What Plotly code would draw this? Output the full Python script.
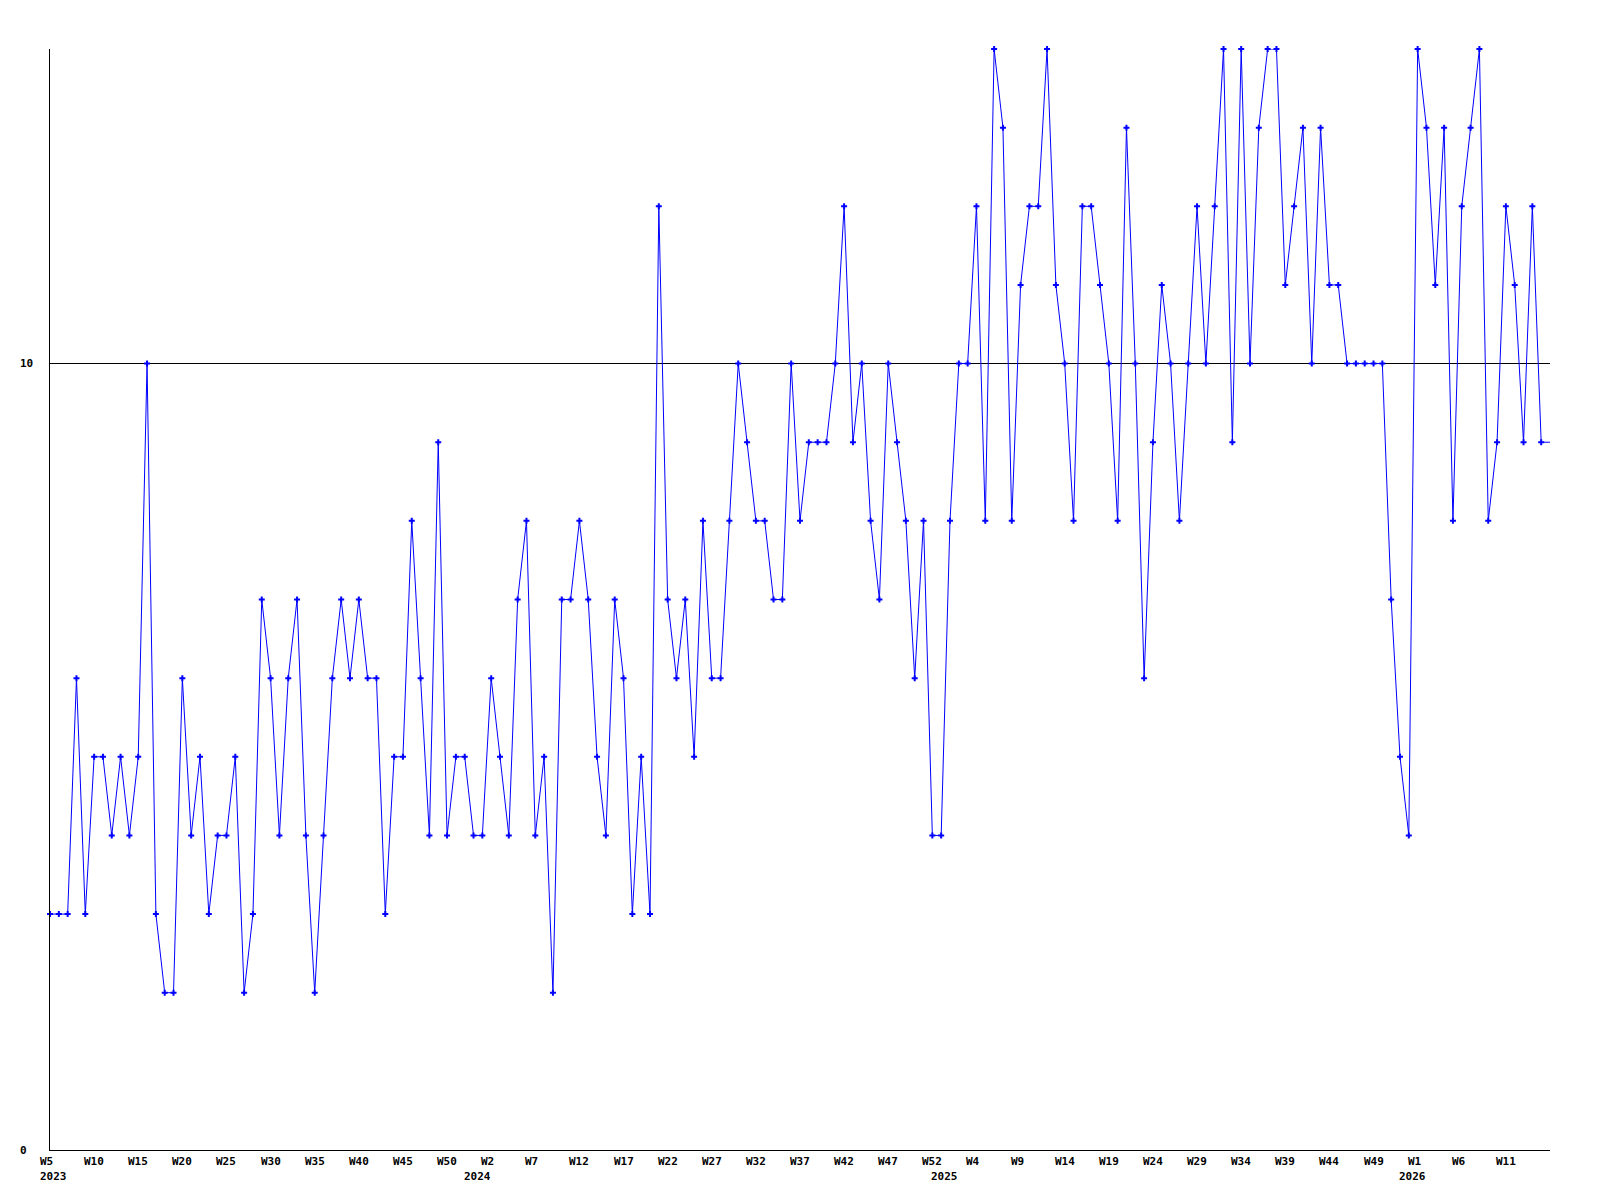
import plotly.graph_objects as go

# Weekly values (2023 W5 ... 2026 W16)
values_2023 = [3, 3, 3, 6, 3, 5, 5, 4, 5, 4, 5, 10, 3, 2, 2, 6, 4, 5, 3, 4,
               4, 5, 2, 3, 7, 6, 4, 6, 7, 4, 2, 4, 6, 7, 6, 7, 6, 6, 3, 5,
               5, 8, 6, 4, 9, 4, 5, 5]
values_2024 = [4, 4, 6, 5, 4, 7, 8, 4, 5, 2, 7, 7, 8, 7, 5, 4, 7, 6, 3, 5,
               3, 12, 7, 6, 7, 5, 8, 6, 6, 8, 10, 9, 8, 8, 7, 7, 10, 8, 9, 9,
               9, 10, 12, 9, 10, 8, 7, 10, 9, 8, 6, 8, 4]
values_2025 = [4, 8, 10, 10, 12, 8, 14, 13, 8, 11, 12, 12, 14, 11, 10, 8, 12, 12, 11, 10,
               8, 13, 10, 6, 9, 11, 10, 8, 10, 12, 10, 12, 14, 9, 14, 10, 13, 14, 14, 11,
               12, 13, 10, 13, 11, 11, 10, 10, 10, 10, 10, 7, 5]
values_2026 = [4, 14, 13, 11, 13, 8, 12, 13, 14, 8, 9, 12, 11, 9, 12, 9, 9]

values = values_2023 + values_2024 + values_2025 + values_2026

# x-axis labels (every 5th week) and the year labels under them
week_tick_index = list(range(0, 170, 5))
week_tick_labels = ["W5", "W10", "W15", "W20", "W25", "W30", "W35", "W40", "W45", "W50",
                    "W2", "W7", "W12", "W17", "W22", "W27", "W32", "W37", "W42", "W47", "W52",
                    "W4", "W9", "W14", "W19", "W24", "W29", "W34", "W39", "W44", "W49",
                    "W1", "W6", "W11"]
year_index = [0, 48, 101, 154]
year_labels = ["2023", "2024", "2025", "2026"]

y_tick_values = [0, 10]
y_tick_labels = ["0", "10"]

x = list(range(len(values)))

label_font = dict(family="DejaVu Sans Mono", size=11, color="black", weight="bold")

fig = go.Figure()
fig.add_trace(go.Scatter(
    x=x, y=values, mode="lines",
    line=dict(color="#0000ff", width=1),
    cliponaxis=False, hoverinfo="skip", showlegend=False))
fig.add_trace(go.Scatter(
    x=x[:-1], y=values[:-1], mode="markers",
    marker=dict(symbol="cross", size=5, color="#0000ff", line=dict(width=0)),
    cliponaxis=False, showlegend=False))

annotations = []
for k, t in zip(week_tick_index, week_tick_labels):
    annotations.append(dict(x=k, y=0, xref="x", yref="paper", text=t, showarrow=False,
                            xanchor="left", yanchor="middle", xshift=-11, yshift=-11.5,
                            borderpad=0, font=label_font))
for k, t in zip(year_index, year_labels):
    annotations.append(dict(x=k, y=0, xref="x", yref="paper", text=t, showarrow=False,
                            xanchor="left", yanchor="middle", xshift=-11, yshift=-26.5,
                            borderpad=0, font=label_font))
for v, t in zip(y_tick_values, y_tick_labels):
    annotations.append(dict(x=0, y=v, xref="paper", yref="y", text=t, showarrow=False,
                            xanchor="left", yanchor="middle", xshift=-31,
                            borderpad=0, font=label_font))

# the page body adds an 8px margin, so the figure is 16px smaller than the window
fig.update_layout(
    width=1584, height=1184,
    margin=dict(l=42, r=42, t=41, b=42, pad=0),
    plot_bgcolor="white", paper_bgcolor="white",
    showlegend=False,
    xaxis=dict(range=[0, 170], showgrid=False, zeroline=False, showline=True,
               linecolor="black", linewidth=1, showticklabels=False, ticks=""),
    yaxis=dict(range=[0, 14], tickvals=y_tick_values, showgrid=True, gridcolor="black",
               gridwidth=1, zeroline=False, showline=True, linecolor="black",
               linewidth=1, showticklabels=False, ticks=""),
    annotations=annotations,
)

fig.write_html("out.html", config={"displayModeBar": False})
